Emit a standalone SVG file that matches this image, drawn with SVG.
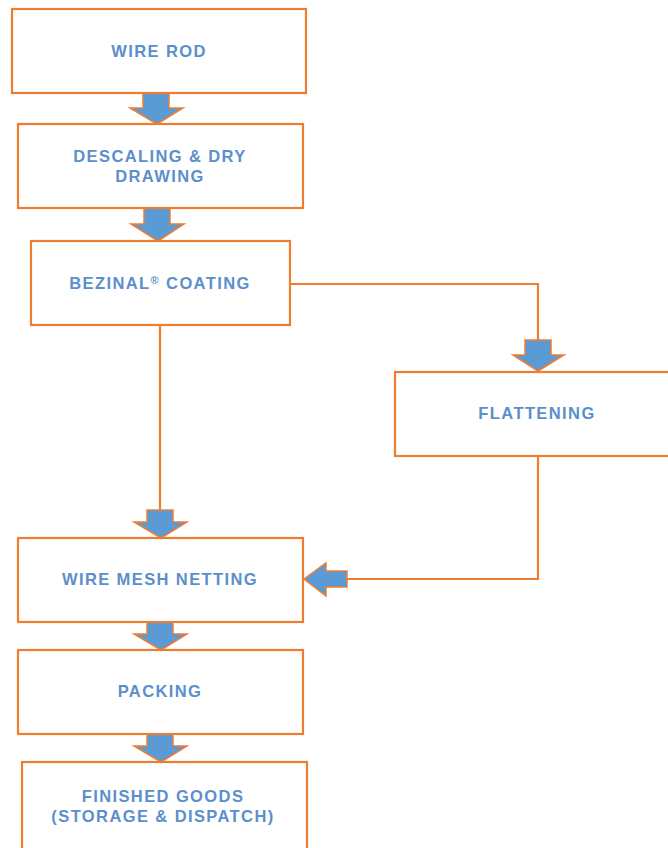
<svg xmlns="http://www.w3.org/2000/svg" width="668" height="848" viewBox="0 0 668 848">
<style>
.box{fill:#fff;stroke:#ED7D31;stroke-width:2.2}
.ln{fill:none;stroke:#ED7D31;stroke-width:2.2}
.ar{fill:#5B9BD5;stroke:#ED7D31;stroke-width:1.5;stroke-linejoin:miter}
.t{font-family:"Liberation Sans",Arial,sans-serif;font-weight:bold;font-size:16.5px;fill:#5B8FCC;text-anchor:middle;letter-spacing:1.4px}
</style>
<rect width="668" height="848" fill="#fff"/>
<g id="connectors">
<polyline class="ln" points="290,284 538,284 538,340"/>
<line class="ln" x1="160" y1="325" x2="160" y2="510"/>
<polyline class="ln" points="538,456 538,579 347,579"/>
<polygon class="ar" points="143,93 169,93 169,108 183,108 157,124 130,108 143,108"/>
<polygon class="ar" points="144,208 170,208 170,224 184,224 158,241 131,224 144,224"/>
<polygon class="ar" points="525,340 551,340 551,355 564,355 538,371 513,355 525,355"/>
<polygon class="ar" points="147,510 173,510 173,522 187,522 161,538 134,522 147,522"/>
<polygon class="ar" points="347,571 347,587 326,587 326,596 304,579 326,563 326,571"/>
<polygon class="ar" points="147,622 173,622 173,634 187,634 161,650 134,634 147,634"/>
<polygon class="ar" points="147,734 173,734 173,746 187,746 161,762 134,746 147,746"/>
</g>
<g id="wire-rod"><rect class="box" x="12" y="9" width="294" height="84"/><text class="t" x="159" y="57">WIRE ROD</text></g>
<g id="descaling"><rect class="box" x="18" y="124" width="285" height="84"/><text class="t" x="160" y="162">DESCALING &amp; DRY</text><text class="t" x="160" y="182">DRAWING</text></g>
<g id="coating"><rect class="box" x="31" y="241" width="259" height="84"/><text class="t" x="160" y="289">BEZINAL<tspan font-size="11" dy="-5">®</tspan><tspan dy="5"> COATING</tspan></text></g>
<g id="flattening"><rect class="box" x="395" y="372" width="280" height="84"/><text class="t" x="537" y="419">FLATTENING</text></g>
<g id="wire-mesh"><rect class="box" x="18" y="538" width="285" height="84"/><text class="t" x="160" y="585">WIRE MESH NETTING</text></g>
<g id="packing"><rect class="box" x="18" y="650" width="285" height="84"/><text class="t" x="160" y="697">PACKING</text></g>
<g id="finished"><rect class="box" x="22" y="762" width="285" height="100"/><text class="t" x="163" y="802">FINISHED GOODS</text><text class="t" x="163" y="822">(STORAGE &amp; DISPATCH)</text></g>
</svg>
